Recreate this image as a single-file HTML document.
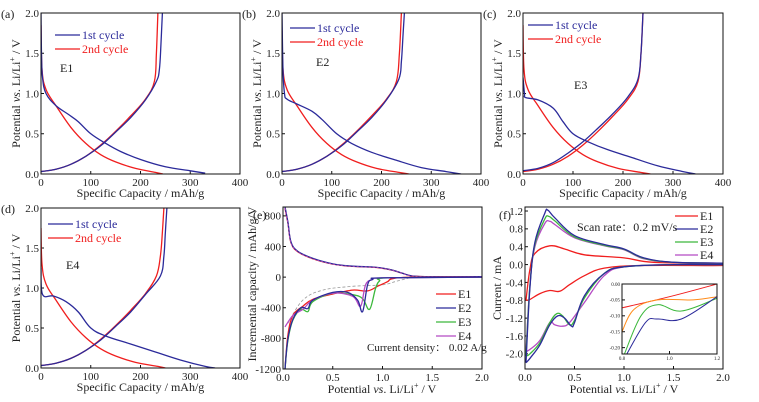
<!DOCTYPE html>
<html><head><meta charset="utf-8">
<style>
html,body{margin:0;padding:0;background:#fff;}
svg{display:block;}
svg text{font-family:"Liberation Serif","Noto Serif CJK SC",serif;}
</style></head>
<body>
<svg id="fig" width="759" height="402" viewBox="0 0 759 402" font-family="Liberation Serif, serif" xmlns="http://www.w3.org/2000/svg"></svg>
<script>
// ---- GCD data (capacity mAh/g, potential V) ----
const e1_d1=[[0,2.0],[1,1.5],[3,1.2],[10,1.0],[30,0.85],[55,0.74],[75,0.65],[100,0.5],[130,0.38],[160,0.28],[200,0.18],[250,0.09],[300,0.04],[330,0.01]];
const e1_c1=[[0,0.03],[30,0.06],[60,0.12],[90,0.22],[120,0.35],[150,0.52],[180,0.7],[210,0.92],[232,1.15],[238,1.3],[241,1.6],[244,2.0]];
const e1_d2=[[0,1.85],[2,1.3],[10,1.05],[30,0.85],[60,0.58],[90,0.38],[120,0.24],[150,0.15],[190,0.07],[230,0.02],[245,0.0]];
const e1_c2=[[0,0.03],[30,0.06],[60,0.12],[90,0.22],[120,0.36],[150,0.53],[180,0.72],[210,0.93],[228,1.15],[232,1.5],[235,2.0]];
const e2_d1=[[0,2.0],[2,1.3],[5,1.0],[10,0.93],[30,0.87],[60,0.78],[80,0.68],[110,0.5],[140,0.38],[180,0.27],[230,0.17],[280,0.08],[330,0.03],[360,0.0]];
const e2_c1=[[0,0.03],[30,0.06],[60,0.12],[90,0.22],[120,0.35],[150,0.52],[180,0.7],[210,0.92],[235,1.18],[240,1.4],[243,1.7],[246,2.0]];
const e2_d2=[[0,1.78],[2,1.3],[10,1.05],[30,0.85],[60,0.58],[90,0.38],[120,0.24],[150,0.15],[190,0.07],[235,0.02],[255,0.0]];
const e2_c2=[[0,0.03],[30,0.06],[60,0.12],[90,0.22],[120,0.36],[150,0.53],[180,0.72],[210,0.93],[230,1.15],[236,1.5],[240,2.0]];
const e3_d1=[[0,1.2],[3,1.0],[5,0.95],[30,0.92],[60,0.82],[80,0.65],[100,0.5],[130,0.4],[170,0.3],[220,0.2],[270,0.1],[320,0.03],[345,0.0]];
const e3_c1=[[0,0.04],[30,0.07],[60,0.14],[90,0.26],[120,0.4],[150,0.57],[180,0.75],[210,0.96],[230,1.18],[236,1.5],[240,2.0]];
const e3_d2=[[0,1.85],[2,1.3],[10,1.05],[30,0.85],[60,0.58],[90,0.38],[120,0.24],[150,0.15],[190,0.07],[235,0.02],[255,0.0]];
const e3_c2=[[0,0.03],[30,0.06],[60,0.12],[90,0.22],[120,0.36],[150,0.53],[180,0.72],[210,0.93],[230,1.15],[236,1.5],[240,2.0]];
const e4_d1=[[0,1.25],[3,0.92],[25,0.9],[50,0.83],[75,0.7],[100,0.5],[130,0.4],[180,0.3],[230,0.2],[280,0.1],[330,0.02],[350,0.0]];
const e4_c1=[[0,0.03],[30,0.06],[60,0.12],[90,0.22],[120,0.35],[150,0.52],[180,0.7],[210,0.92],[240,1.15],[247,1.4],[250,1.7],[253,2.0]];
const e4_d2=[[0,1.75],[2,1.3],[10,1.05],[30,0.85],[60,0.58],[90,0.38],[120,0.24],[150,0.15],[190,0.07],[235,0.02],[250,0.0]];
const e4_c2=[[0,0.03],[30,0.06],[60,0.12],[90,0.22],[120,0.36],[150,0.53],[180,0.72],[210,0.93],[232,1.15],[240,1.4],[244,1.7],[247,2.0]];
const gcdXTicks=[0,100,200,300,400];
const gcdYTicks=[0.0,0.5,1.0,1.5,2.0];
// ---- dQ/dV data ----
const dq_up=[[0.02,900],[0.05,700],[0.08,450],[0.15,330],[0.3,240],[0.5,170],[0.7,140],[0.9,130],[1.0,115],[1.1,90],[1.2,50],[1.3,15],[1.5,5],[2.0,5]];
const dq_e1=[[0.02,-1200],[0.05,-750],[0.1,-500],[0.2,-380],[0.3,-290],[0.5,-220],[0.7,-170],[0.85,-180],[0.95,-120],[1.05,-60],[1.1,-20],[1.3,0],[2.0,0]];
const dq_e2=[[0.02,-1200],[0.05,-800],[0.1,-550],[0.18,-400],[0.25,-410],[0.3,-300],[0.5,-200],[0.65,-200],[0.75,-300],[0.8,-450],[0.85,-100],[0.9,-30],[1.0,-10],[2.0,0]];
const dq_e3=[[0.02,-1200],[0.05,-820],[0.1,-560],[0.18,-420],[0.25,-450],[0.3,-320],[0.5,-210],[0.7,-230],[0.8,-280],[0.87,-420],[0.93,-150],[0.97,-50],[1.05,-10],[2.0,0]];
const dq_e4=[[0.02,-650],[0.1,-500],[0.2,-420],[0.3,-300],[0.5,-210],[0.7,-250],[0.78,-380],[0.83,-100],[0.9,-30],[1.0,-10],[2.0,0]];
const dq_dash=[[0.05,-600],[0.2,-300],[0.4,-170],[0.7,-120],[1.0,-100],[1.15,-50],[1.3,0]];
const dqXTicks=[0.0,0.5,1.0,1.5,2.0];
const dqYTicks=[-1200,-800,-400,0,400,800];
// ---- CV data ----
const cv_e1=[[0.01,-0.8],[0.05,-0.1],[0.1,0.25],[0.25,0.42],[0.4,0.35],[0.6,0.22],[1.0,0.15],[1.3,0.05],[2.0,0.02],[2.0,-0.02],[1.2,-0.02],[0.8,-0.08],[0.6,-0.25],[0.45,-0.45],[0.35,-0.6],[0.25,-0.58],[0.15,-0.65],[0.05,-0.78],[0.01,-0.8]];
const cv_e2=[[0.01,-2.2],[0.05,-0.5],[0.1,0.5],[0.2,1.15],[0.23,1.22],[0.3,1.05],[0.5,0.65],[0.8,0.45],[1.0,0.35],[1.2,0.15],[1.5,0.05],[2.0,0.03],[2.0,0.0],[1.5,0.0],[1.0,-0.05],[0.8,-0.2],[0.6,-0.7],[0.5,-1.3],[0.47,-1.38],[0.4,-1.2],[0.33,-1.15],[0.25,-1.35],[0.15,-1.8],[0.05,-2.1],[0.01,-2.2]];
const cv_e3=[[0.01,-2.05],[0.05,-0.45],[0.1,0.45],[0.2,1.02],[0.24,1.08],[0.3,0.98],[0.5,0.62],[0.8,0.43],[1.0,0.34],[1.2,0.14],[1.5,0.05],[2.0,0.03],[2.0,0.0],[1.5,0.0],[1.0,-0.05],[0.8,-0.2],[0.6,-0.75],[0.5,-1.25],[0.45,-1.35],[0.38,-1.15],[0.32,-1.1],[0.25,-1.3],[0.15,-1.75],[0.05,-2.0],[0.01,-2.05]];
const cv_e4=[[0.01,-1.95],[0.05,-0.45],[0.1,0.4],[0.2,0.92],[0.25,0.97],[0.3,0.9],[0.5,0.6],[0.8,0.42],[1.0,0.33],[1.2,0.13],[1.5,0.05],[2.0,0.03],[2.0,0.0],[1.5,0.0],[1.0,-0.05],[0.8,-0.25],[0.6,-0.85],[0.45,-1.3],[0.38,-1.38],[0.3,-1.35],[0.25,-1.3],[0.15,-1.7],[0.05,-1.9],[0.01,-1.95]];
const cvXTicks=[0.0,0.5,1.0,1.5,2.0];
const cvYTicks=[-2.0,-1.6,-1.2,-0.8,-0.4,0.0,0.4,0.8,1.2];
// ---- inset ----
const in_red=[[0.8,-0.075],[1.0,-0.04],[1.2,0.0]];
const in_orange=[[0.8,-0.15],[0.85,-0.08],[0.95,-0.05],[1.1,-0.05],[1.2,-0.04]];
const in_green=[[0.81,-0.22],[0.88,-0.1],[0.95,-0.065],[1.05,-0.085],[1.2,-0.045]];
const in_blue=[[0.82,-0.22],[0.9,-0.12],[0.95,-0.11],[1.05,-0.11],[1.2,-0.04]];
const inXTicks=[0.8,1.0,1.2];
const inYTicks=[-0.20,-0.15,-0.10,-0.05,0.00];

const NS="http://www.w3.org/2000/svg";
const svg=document.getElementById('fig');
const FONT='"Liberation Serif","Noto Serif CJK SC",serif';
function el(tag,attrs,parent){const e=document.createElementNS(NS,tag);for(const k in attrs)e.setAttribute(k,attrs[k]);(parent||svg).appendChild(e);return e;}
function txt(x,y,s,size,anchor,parent,fill){const t=el('text',{x:x,y:y,'font-size':size,'text-anchor':anchor||'start',fill:fill||'#222','font-family':FONT},parent);t.textContent=s;return t;}
function smoothPath(pts){
  if(pts.length<3)return 'M'+pts.map(p=>p[0].toFixed(1)+','+p[1].toFixed(1)).join(' L');
  let d='M'+pts[0][0].toFixed(1)+','+pts[0][1].toFixed(1);
  for(let i=0;i<pts.length-1;i++){
    const p0=pts[Math.max(0,i-1)],p1=pts[i],p2=pts[i+1],p3=pts[Math.min(pts.length-1,i+2)];
    const t=0.18;
    const c1=[p1[0]+(p2[0]-p0[0])*t,p1[1]+(p2[1]-p0[1])*t];
    const c2=[p2[0]-(p3[0]-p1[0])*t,p2[1]-(p3[1]-p1[1])*t];
    d+=' C'+c1[0].toFixed(1)+','+c1[1].toFixed(1)+' '+c2[0].toFixed(1)+','+c2[1].toFixed(1)+' '+p2[0].toFixed(1)+','+p2[1].toFixed(1);
  }
  return d;
}
function ytitle(g,cx,cy){
  const yl=el('text',{x:cx,y:cy+4,'font-size':12,'text-anchor':'middle',fill:'#222','font-family':FONT,transform:'rotate(-90 '+cx+' '+cy+')'},g);
  yl.innerHTML='Potential <tspan font-style="italic">vs</tspan>. Li/Li<tspan font-size="8" dy="-5">+</tspan><tspan dy="5"> / V</tspan>';
  
}

function makePanel(id,box,xr,yr,xt,yt,fmtX,fmtY,tickSize){
  const g=el('g',{});
  
  
  const sx=v=>box.x0+(v-xr[0])/(xr[1]-xr[0])*(box.x1-box.x0);
  const sy=v=>box.y1-(v-yr[0])/(yr[1]-yr[0])*(box.y1-box.y0);
  const fs=tickSize||11;
  xt.forEach(v=>{const x=sx(v);el('line',{x1:x,x2:x,y1:box.y1,y2:box.y1-3,stroke:'#111'},g);
    const t=txt(x,box.y1+fs+1,fmtX(v),fs,'middle',g);
    
    });
  yt.forEach(v=>{const y=sy(v);el('line',{x1:box.x0,x2:box.x0+3,y1:y,y2:y,stroke:'#111'},g);
    const t=txt(box.x0-2,y+fs*0.35,fmtY(v),fs,'end',g);
    
    });
  const clip=el('clipPath',{id:'c'+id},g);
  el('rect',{x:box.x0,y:box.y0,width:box.x1-box.x0,height:box.y1-box.y0},clip);
  const plot=el('g',{'clip-path':'url(#c'+id+')'},g);
  const fr=el('rect',{x:box.x0,y:box.y0,width:box.x1-box.x0,height:box.y1-box.y0,fill:'none',stroke:'#111','stroke-width':1},g);
  
  
  function line(data,color,name,w,dash){
    const p=el('path',{d:smoothPath(data.map(d=>[sx(d[0]),sy(d[1])])),fill:'none',stroke:color,'stroke-width':w||1.3,'stroke-linejoin':'round'},plot);
    if(dash)p.setAttribute('stroke-dasharray',dash);
    
    
  }
  return {g,sx,sy,line};
}
const BLUE='#2b2a9a',RED='#f01e1e',GREEN='#3cb83c',PURPLE='#b54bc4',ORANGE='#ff8c1a';
const f1=v=>v.toFixed(1), f0=v=>String(v);

function gcd(id,label,sample,box,d1,c1,d2,c2,leg,samp){
  const P=makePanel(id,box,[0,400],[0,2],gcdXTicks,gcdYTicks,f0,f1);
  P.line(d2,RED,'2nd-cycle-discharge');P.line(c2,RED,'2nd-cycle-charge');
  P.line(d1,BLUE,'1st-cycle-discharge');P.line(c1,BLUE,'1st-cycle-charge');
  const pl=txt(box.x0-40,box.y0+5,label,12,'start',P.g);
  
  const xl=txt((box.x0+box.x1)/2,box.y1+23,'Specific Capacity / mAh/g',12,'middle',P.g);
  
  ytitle(P.g,box.x0-25,(box.y0+box.y1)/2);
  [[BLUE,'1st cycle'],[RED,'2nd cycle']].forEach((e,i)=>{
    const y=leg.y+i*14;
    const l=el('line',{x1:leg.x,x2:leg.x+25,y1:y,y2:y,stroke:e[0],'stroke-width':1.3},P.g);
    
    const t=txt(leg.x+27,y+4,e[1],12,'start',P.g,e[0]);
    
  });
  const s=txt(samp.x,samp.y,sample,12,'start',P.g);
  
}
gcd('panel-a','(a)','E1',{x0:41,x1:240,y0:13,y1:174},e1_d1,e1_c1,e1_d2,e1_c2,{x:55,y:35},{x:60,y:72});
gcd('panel-b','(b)','E2',{x0:282,x1:481,y0:13,y1:174},e2_d1,e2_c1,e2_d2,e2_c2,{x:290,y:28},{x:316,y:66});
gcd('panel-c','(c)','E3',{x0:523,x1:723,y0:13,y1:174},e3_d1,e3_c1,e3_d2,e3_c2,{x:528,y:25},{x:574,y:89});
gcd('panel-d','(d)','E4',{x0:41,x1:240,y0:208,y1:368},e4_d1,e4_c1,e4_d2,e4_c2,{x:48,y:224},{x:66,y:269});

// panel e
(function(){
  const box={x0:283,x1:482,y0:207,y1:369};
  const P=makePanel('panel-e',box,[0,2],[-1200,916],dqXTicks,dqYTicks,f1,f0);
  P.line(dq_dash,'#999','second-cycle-dashed',0.8,'3,2');
  P.line(dq_up,RED,'e1-charge');P.line(dq_up.map(d=>[d[0],d[1]*1.02]),BLUE,'e2-charge');
  P.line(dq_up,PURPLE,'e4-charge',0.8,'2,2');
  P.line(dq_e1,RED,'e1-discharge');P.line(dq_e3,GREEN,'e3-discharge');P.line(dq_e4,PURPLE,'e4-discharge');P.line(dq_e2,BLUE,'e2-discharge');
  const pl=txt(253,219,'(e)',12,'start',P.g);
  const xl=el('text',{x:382,y:393,'font-size':12,'text-anchor':'middle',fill:'#222','font-family':FONT},P.g);
  xl.innerHTML='Potential <tspan font-style="italic">vs</tspan>. Li/Li<tspan font-size="8" dy="-5">+</tspan><tspan dy="5"> / V</tspan>';
  
  const yl=txt(260,288,'Incremental capacity / mAh/g/V',12,'middle',P.g);
  yl.setAttribute('transform','rotate(-90 256 288)');
  
  [[RED,'E1'],[BLUE,'E2'],[GREEN,'E3'],[PURPLE,'E4']].forEach((e,i)=>{const y=294+i*14;
    const l=el('line',{x1:436,x2:456,y1:y,y2:y,stroke:e[0],'stroke-width':1.3},P.g);
    
    const t=txt(458,y+4,e[1],12,'start',P.g);});
  const c=txt(367,351,'Current density： 0.02 A/g',11,'start',P.g);
  
})();

// panel f
(function(){
  const box={x0:525,x1:723,y0:207,y1:369};
  const P=makePanel('panel-f',box,[0,2],[-2.34,1.29],cvXTicks,cvYTicks,f1,f1);
  P.line(cv_e1,RED,'e1-cv');P.line(cv_e4,PURPLE,'e4-cv');P.line(cv_e3,GREEN,'e3-cv');P.line(cv_e2,BLUE,'e2-cv');
  const pl=txt(499,219,'(f)',12,'start',P.g);
  const xl=el('text',{x:624,y:393,'font-size':12,'text-anchor':'middle',fill:'#222','font-family':FONT},P.g);
  xl.innerHTML='Potential <tspan font-style="italic">vs</tspan>. Li/Li<tspan font-size="8" dy="-5">+</tspan><tspan dy="5"> / V</tspan>';
  
  const yl=txt(501,288,'Current / mA',12,'middle',P.g);
  yl.setAttribute('transform','rotate(-90 501 288)');
  
  [[RED,'E1'],[BLUE,'E2'],[GREEN,'E3'],[PURPLE,'E4']].forEach((e,i)=>{const y=216+i*13;
    const l=el('line',{x1:675,x2:698,y1:y,y2:y,stroke:e[0],'stroke-width':1.3},P.g);
    
    const t=txt(700,y+4,e[1],12,'start',P.g);});
  const c=txt(577,231,'Scan rate：0.2 mV/s',12,'start',P.g);
  
  // inset
  const ib={x0:622,x1:717,y0:284,y1:354};
  el('rect',{x:ib.x0,y:ib.y0,width:ib.x1-ib.x0,height:ib.y1-ib.y0,fill:'#fff'},svg);
  const I=makePanel('inset',ib,[0.8,1.2],[-0.22,0.0],inXTicks,inYTicks,f1,v=>v.toFixed(2),5);
  I.line(in_red,RED,'inset-e1',1);I.line(in_orange,ORANGE,'inset-e4',1);I.line(in_green,GREEN,'inset-e3',1);I.line(in_blue,BLUE,'inset-e2',1);
})();
</script>
</body></html>
